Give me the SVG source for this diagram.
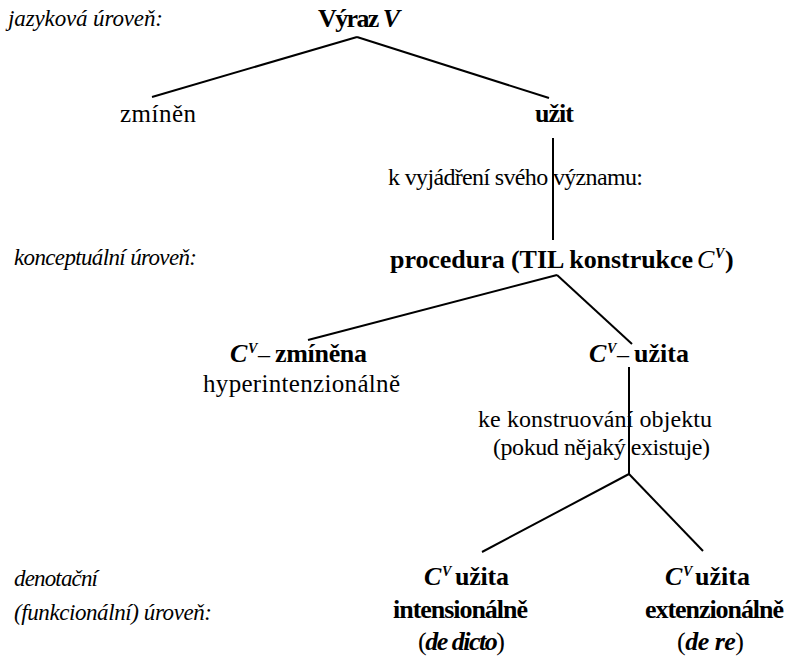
<svg xmlns="http://www.w3.org/2000/svg" width="788" height="659" viewBox="0 0 788 659">
<style>
text{font-family:"Liberation Serif","Times New Roman",serif;fill:#000}
.r{font-size:24px}
.r5{font-size:25px}
.b{font-size:26px;font-weight:bold}
.l{font-size:23px;font-style:italic}
.c{font-size:26px;font-style:italic;font-weight:bold}
.ci{font-size:26px;font-style:italic}
.s{font-size:14px;font-style:italic;font-weight:bold}
.bi{font-style:italic;font-weight:bold}
.n{font-weight:normal}
.e line{stroke:#000;stroke-width:2;fill:none}
</style>
<rect width="788" height="659" fill="#fff"/>
<g id="levels">
<text class="l" x="8" y="26" textLength="155" lengthAdjust="spacing">jazyková úroveň:</text>
<text class="l" x="14" y="265" textLength="183" lengthAdjust="spacing">konceptuální úroveň:</text>
<text class="l" x="14" y="586" textLength="84" lengthAdjust="spacing">denotační</text>
<text class="l" x="14" y="620" textLength="198" lengthAdjust="spacing">(funkcionální) úroveň:</text>
</g>
<g class="e" id="connectors">
<line x1="357" y1="37" x2="152" y2="97"/>
<line x1="357" y1="37" x2="549" y2="98"/>
<line x1="553" y1="138" x2="553" y2="240"/>
<line x1="557" y1="275" x2="308" y2="340"/>
<line x1="557" y1="275" x2="632" y2="344"/>
<line x1="629" y1="367" x2="629" y2="474"/>
<line x1="629" y1="474" x2="482" y2="552"/>
<line x1="629" y1="474" x2="703" y2="551"/>
</g>
<g id="vyraz">
<text class="b" x="318" y="27" textLength="82" lengthAdjust="spacing">Výraz <tspan class="bi">V</tspan></text>
</g>
<g id="zminen">
<text class="r5" x="120" y="122" textLength="76" lengthAdjust="spacing">zmíněn</text>
</g>
<g id="uzit">
<text class="b" x="535" y="122" textLength="39" lengthAdjust="spacing">užit</text>
</g>
<g id="label-vyznam">
<text class="r" x="388" y="185" textLength="255" lengthAdjust="spacing">k vyjádření svého významu:</text>
</g>
<g id="procedura">
<text class="b" x="390" y="268" textLength="303" lengthAdjust="spacing">procedura (TIL konstrukce</text>
<text class="ci" x="697" y="268">C</text>
<text class="s" x="715" y="258">V</text>
<text class="b" x="725" y="268">)</text>
</g>
<g id="cv-zminena">
<text class="c" x="230" y="362">C</text>
<text class="s" x="248" y="353">V</text>
<text class="r" x="258" y="362">–</text>
<text class="b" x="275" y="362" textLength="92" lengthAdjust="spacing">zmíněna</text>
<text class="r5" x="203" y="392" textLength="197" lengthAdjust="spacing">hyperintenzionálně</text>
</g>
<g id="cv-uzita">
<text class="c" x="589" y="362">C</text>
<text class="s" x="607" y="353">V</text>
<text class="r" x="617" y="362">–</text>
<text class="b" x="634" y="362" textLength="55" lengthAdjust="spacing">užita</text>
</g>
<g id="label-konstruovani">
<text class="r" x="478" y="427" textLength="234" lengthAdjust="spacing">ke konstruování objektu</text>
<text class="r" x="493" y="455" textLength="217" lengthAdjust="spacing">(pokud nějaký existuje)</text>
</g>
<g id="de-dicto">
<text class="c" x="424" y="585">C</text>
<text class="s" x="442" y="576">V</text>
<text class="b" x="455" y="585" textLength="54" lengthAdjust="spacing">užita</text>
<text class="b" x="393" y="618" textLength="135" lengthAdjust="spacing">intensionálně</text>
<text class="b" x="418" y="650" textLength="87" lengthAdjust="spacing"><tspan class="n">(</tspan><tspan class="bi">de dicto</tspan><tspan class="n">)</tspan></text>
</g>
<g id="de-re">
<text class="c" x="665" y="585">C</text>
<text class="s" x="683" y="576">V</text>
<text class="b" x="695" y="585" textLength="55" lengthAdjust="spacing">užita</text>
<text class="b" x="645" y="618" textLength="139" lengthAdjust="spacing">extenzionálně</text>
<text class="b" x="677" y="650" textLength="67" lengthAdjust="spacing"><tspan class="n">(</tspan><tspan class="bi">de re</tspan><tspan class="n">)</tspan></text>
</g>
</svg>
